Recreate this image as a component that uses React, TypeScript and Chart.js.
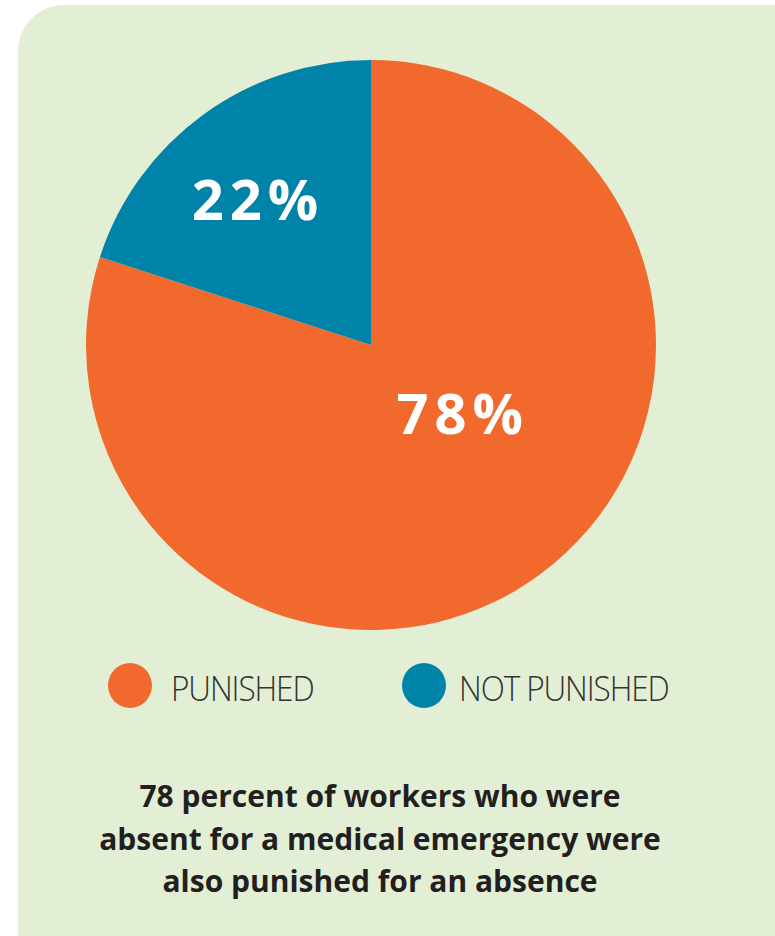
import React, { useEffect, useRef } from "react";
import { Chart, registerables } from "chart.js";

Chart.register(...registerables);

// ---- data ----
const categories = ["PUNISHED", "NOT PUNISHED"];
const drawnShares = [80, 20]; // slice sizes as drawn in the picture
const shareLabels = ["78%", "22%"]; // printed on the slices
const captionLines = [
  "78 percent of workers who were",
  "absent for a medical emergency were",
  "also punished for an absence",
];

// ---- styles ----
const COLORS = ["#F2692D", "#0083A9"];
const PANEL = "#E2EFD5";
const TEXT = "#231F20";
// label placement: clockwise angle from 12 o'clock (deg) and fraction of radius
const LABEL_PLACES = [
  { angle: 128, frac: 0.395 },
  { angle: 321.4, frac: 0.653 },
];

const labelPlugin = {
  id: "sliceLabels",
  afterDatasetsDraw(chart: any) {
    const meta = chart.getDatasetMeta(0);
    const ctx = chart.ctx as CanvasRenderingContext2D;
    const size = 56;
    const spacing = 6;
    ctx.save();
    ctx.fillStyle = "#ffffff";
    ctx.font = `700 ${size}px "Open Sans"`;
    (ctx as any).letterSpacing = `${spacing}px`;
    ctx.textAlign = "center";
    ctx.textBaseline = "alphabetic";
    meta.data.forEach((arc: any, i: number) => {
      const p = LABEL_PLACES[i];
      const a = (p.angle * Math.PI) / 180;
      const r = arc.outerRadius * p.frac;
      const x = arc.x + Math.sin(a) * r + spacing / 2;
      const y = arc.y - Math.cos(a) * r + (size * 0.714) / 2;
      ctx.fillText(shareLabels[i], x, y);
    });
    ctx.restore();
  },
};

export default function App() {
  const ref = useRef<HTMLCanvasElement | null>(null);

  useEffect(() => {
    if (!ref.current) return;
    const chart = new Chart(ref.current, {
      type: "pie",
      data: {
        labels: categories,
        datasets: [
          {
            data: drawnShares,
            backgroundColor: COLORS,
            borderWidth: 0,
          },
        ],
      },
      options: {
        animation: false,
        responsive: false,
        layout: { padding: 0 },
        plugins: {
          legend: { display: false },
          tooltip: { enabled: false },
        },
      },
      plugins: [labelPlugin],
    });
    return () => chart.destroy();
  }, []);

  const legendText: React.CSSProperties = {
    position: "absolute",
    top: 670,
    fontFamily: '"Open Sans", sans-serif',
    fontWeight: 300,
    fontSize: 35,
    lineHeight: "35px",
    color: "#333333",
    whiteSpace: "nowrap",
    letterSpacing: "-1.2px",
    transform: "scaleX(0.9)",
    transformOrigin: "left center",
  };

  return (
    <div
      style={{
        position: "absolute",
        left: 0,
        top: 0,
        width: 775,
        height: 936,
        overflow: "hidden",
        background: "#ffffff",
      }}
    >
      <div
        style={{
          position: "absolute",
          left: 18,
          top: 5,
          width: 757,
          height: 931,
          background: PANEL,
          borderTopLeftRadius: 46,
        }}
      />
      <canvas
        ref={ref}
        width={570}
        height={570}
        style={{ position: "absolute", left: 86, top: 60, width: 570, height: 570 }}
      />
      {/* legend */}
      {[
        { cx: 130, tx: 171 },
        { cx: 424, tx: 459 },
      ].map((pos, i) => (
        <React.Fragment key={categories[i]}>
          <div
            style={{
              position: "absolute",
              left: pos.cx - 22,
              top: 663,
              width: 44,
              height: 45,
              borderRadius: "50%",
              background: COLORS[i],
            }}
          />
          <div style={{ ...legendText, left: pos.tx }}>{categories[i]}</div>
        </React.Fragment>
      ))}
      {/* caption */}
      <div
        style={{
          position: "absolute",
          left: 0,
          top: 775,
          width: 760,
          textAlign: "center",
          fontFamily: '"Open Sans", sans-serif',
          fontWeight: 700,
          fontSize: 30,
          lineHeight: "42.5px",
          color: TEXT,
        }}
      >
        {captionLines.map((l) => (
          <div key={l}>{l}</div>
        ))}
      </div>
    </div>
  );
}
